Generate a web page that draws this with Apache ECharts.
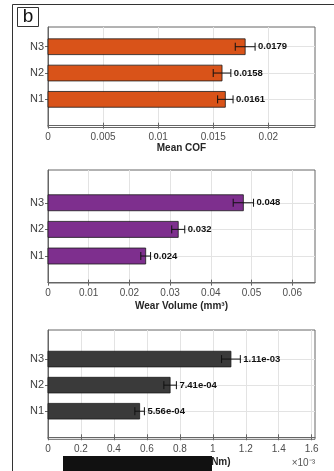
<!DOCTYPE html>
<html><head><meta charset="utf-8">
<script src="https://cdn.jsdelivr.net/npm/echarts@6/dist/echarts.min.js"></script>
<style>html,body{margin:0;padding:0;background:#fff}#c{width:334px;height:471px}</style>
</head><body><div id="c"></div>
<script>
const categories = ['N1', 'N2', 'N3'];
const catPos = [1, 2, 3];

const cofMean = [0.0161, 0.0158, 0.0179];
const cofErr = [0.0007, 0.0008, 0.0009];
const cofLabels = ['0.0161', '0.0158', '0.0179'];
const cofTicks = [0, 0.005, 0.01, 0.015, 0.02];

const volMean = [0.024, 0.032, 0.048];
const volErr = [0.0012, 0.0016, 0.0025];
const volLabels = ['0.024', '0.032', '0.048'];
const volTicks = [0, 0.01, 0.02, 0.03, 0.04, 0.05, 0.06];

// wear rate in units of 1e-3
const rateMean = [0.556, 0.741, 1.11];
const rateErr = [0.029, 0.038, 0.057];
const rateLabels = ['5.56e-04', '7.41e-04', '1.11e-03'];
const rateTicks = [0, 0.2, 0.4, 0.6, 0.8, 1, 1.2, 1.4, 1.6];

const FONT = "'Liberation Sans', Arial, Helvetica, sans-serif";

const panels = [
  { top: 27, height: 100.5, ymin: -0.07, ymax: 3.75, xmax: 0.02424, ticks: cofTicks,
    mean: cofMean, err: cofErr, labels: cofLabels, color: '#D95319', name: 'Mean COF', nameGap: 13 },
  { top: 170, height: 113, ymin: -0.013, ymax: 4.23, xmax: 0.0656, ticks: volTicks,
    mean: volMean, err: volErr, labels: volLabels, color: '#7E2F8E', name: 'Wear Volume (mm³)', nameGap: 18 },
  { top: 330, height: 109.3, ymin: -0.077, ymax: 4.115, xmax: 1.62, ticks: rateTicks,
    mean: rateMean, err: rateErr, labels: rateLabels, color: '#3a3a3a', name: 'Wear Rate (mm³/Nm)', nameGap: 18 }
];

const grids = [], xAxes = [], yAxes = [], series = [];
panels.forEach((p, k) => {
  grids.push({ left: 48, right: 19, top: p.top, height: p.height, show: true,
    borderColor: '#666', borderWidth: 1, backgroundColor: 'transparent' });
  const common = { gridIndex: k, type: 'value', min: 0, max: p.xmax };
  xAxes.push(Object.assign({}, common, {
    position: 'bottom',
    name: p.name, nameLocation: 'middle', nameGap: p.nameGap,
    nameTextStyle: { fontFamily: FONT, fontSize: 10, fontWeight: 'bold', color: '#262626' },
    axisLine: { show: true, lineStyle: { color: '#666', width: 1 } },
    axisTick: { show: true, inside: true, length: 3, customValues: p.ticks, lineStyle: { color: '#666' } },
    axisLabel: { customValues: p.ticks, fontFamily: FONT, fontSize: 10, color: '#4d4d4d', margin: 5,
      formatter: v => String(parseFloat(v.toPrecision(6))) },
    splitLine: { show: true, lineStyle: { color: '#e3e3e3', width: 1 } }
  }));
  xAxes.push(Object.assign({}, common, {
    position: 'top',
    axisLine: { show: false },
    axisTick: { show: true, inside: true, length: 3, customValues: p.ticks, lineStyle: { color: '#666' } },
    axisLabel: { show: false },
    splitLine: { show: false }
  }));
  const ycommon = { gridIndex: k, type: 'value', min: p.ymin, max: p.ymax };
  yAxes.push(Object.assign({}, ycommon, {
    position: 'left',
    axisLine: { show: true, lineStyle: { color: '#666', width: 1 } },
    axisTick: { show: true, inside: true, length: 3, customValues: catPos, lineStyle: { color: '#666' } },
    axisLabel: { customValues: catPos, fontFamily: FONT, fontSize: 11, color: '#404040', margin: 4,
      formatter: v => categories[Math.round(v) - 1] || '' },
    splitLine: { show: true, lineStyle: { color: '#e3e3e3', width: 1 } }
  }));
  yAxes.push(Object.assign({}, ycommon, {
    position: 'right',
    axisLine: { show: false },
    axisTick: { show: true, inside: true, length: 3, customValues: catPos, lineStyle: { color: '#666' } },
    axisLabel: { show: false },
    splitLine: { show: false }
  }));

  series.push({
    type: 'custom',
    xAxisIndex: 2 * k, yAxisIndex: 2 * k,
    clip: false,
    data: categories.map((c, i) => [p.mean[i], catPos[i], p.err[i]]),
    encode: { x: 0, y: 1 },
    renderItem: (params, api) => {
      const v = api.value(0), pos = api.value(1), e = api.value(2);
      const base = api.coord([0, pos]);
      const end = api.coord([v, pos]);
      const h = api.size([0, 0.6])[1];
      const lo = api.coord([v - e, pos]);
      const hi = api.coord([v + e, pos]);
      const cap = 4;
      const ls = { stroke: '#111', lineWidth: 1 };
      return { type: 'group', children: [
        { type: 'rect', shape: { x: base[0], y: base[1] - h / 2, width: end[0] - base[0], height: h },
          style: { fill: p.color, stroke: '#1a1a1a', lineWidth: 0.8 } },
        { type: 'line', shape: { x1: lo[0], y1: lo[1], x2: hi[0], y2: hi[1] }, style: ls },
        { type: 'line', shape: { x1: lo[0], y1: lo[1] - cap, x2: lo[0], y2: lo[1] + cap }, style: ls },
        { type: 'line', shape: { x1: hi[0], y1: hi[1] - cap, x2: hi[0], y2: hi[1] + cap }, style: ls },
        { type: 'text', style: { text: p.labels[params.dataIndex], x: hi[0] + 3, y: hi[1],
          align: 'left', verticalAlign: 'middle', font: 'bold 9.5px ' + FONT, fill: '#111' } }
      ]};
    }
  });
});

const chart = echarts.init(document.getElementById('c'), null, { renderer: 'canvas' });
chart.setOption({
  animation: false,
  backgroundColor: '#fff',
  grid: grids, xAxis: xAxes, yAxis: yAxes, series: series,
  graphic: [
    { type: 'polyline', shape: { points: [[12.5, 471], [12.5, 4.5], [334, 4.5]] },
      style: { stroke: '#333', lineWidth: 1, fill: null }, z: 100 },
    { type: 'rect', shape: { x: 17.5, y: 7.5, width: 21, height: 19 },
      style: { fill: '#fff', stroke: '#333', lineWidth: 1 }, z: 100 },
    { type: 'text', style: { text: 'b', x: 28, y: 17, align: 'center', verticalAlign: 'middle',
      font: '19px ' + FONT, fill: '#111' }, z: 101 },
    { type: 'text', style: { text: '×10⁻³', x: 315, y: 463, align: 'right', verticalAlign: 'middle',
      font: '10px ' + FONT, fill: '#555' }, z: 100 },
    { type: 'rect', shape: { x: 63, y: 456, width: 149, height: 15 },
      style: { fill: '#111' }, z: 200 }
  ]
});
</script></body></html>
